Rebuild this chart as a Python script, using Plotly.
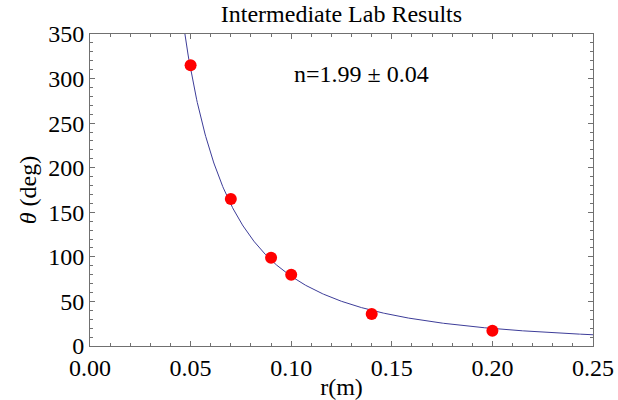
import numpy as np
import plotly.graph_objects as go

# measured data
r_vals = [0.05, 0.07, 0.09, 0.10, 0.14, 0.20]
theta_vals = [315, 165, 99, 80, 36, 17]

# fit parameters: theta = A * r^(-n)
fit_A = 0.80
fit_n = 1.99
fit_err = 0.04

x_ticks = [0.00, 0.05, 0.10, 0.15, 0.20, 0.25]
x_ticklabels = ["0.00", "0.05", "0.10", "0.15", "0.20", "0.25"]
y_ticks = [0, 50, 100, 150, 200, 250, 300, 350]

r_fit = np.linspace(0.04, 0.25, 600)
theta_fit = fit_A * r_fit ** (-fit_n)

FONT = "Liberation Serif"

fig = go.Figure()
fig.add_trace(go.Scatter(x=r_fit, y=theta_fit, mode="lines",
                         line=dict(color="#3d3d99", width=1), hoverinfo="skip"))
fig.add_trace(go.Scatter(x=r_vals, y=theta_vals, mode="markers",
                         marker=dict(color="#ff0000", size=12)))

axis_common = dict(
    showgrid=False, zeroline=False, showline=True, linecolor="#707070", linewidth=1,
    mirror="allticks", ticks="inside", ticklen=5, tickcolor="#707070", tickwidth=1,
    tickfont=dict(family=FONT, size=24, color="black"),
    ticklabeloverflow="allow", automargin=False,
)

fig.update_xaxes(range=[0, 0.25], tickvals=x_ticks, ticktext=x_ticklabels,
                 minor=dict(dtick=0.01, ticks="inside", ticklen=3, tickcolor="#707070"),
                 title=dict(text="r(m)", font=dict(family=FONT, size=24, color="black"), standoff=2),
                 **axis_common)
fig.update_yaxes(range=[0, 350], tickvals=y_ticks,
                 minor=dict(dtick=10, ticks="inside", ticklen=3, tickcolor="#707070"),
                 title=dict(text="<i>θ</i> (deg)", font=dict(family=FONT, size=24, color="black"), standoff=4),
                 **axis_common)

fig.add_annotation(x=0.135, y=305,
                   text=f"n={fit_n:.2f} ± {fit_err:.2f}", showarrow=False,
                   font=dict(family=FONT, size=24, color="black"))

fig.update_layout(
    width=618, height=400,
    margin=dict(l=90, r=25, t=34, b=54, autoexpand=False),
    paper_bgcolor="white", plot_bgcolor="white",
    showlegend=False,
    title=dict(text="Intermediate Lab Results", x=0.5525, xanchor="center", y=0.965, yanchor="middle",
               font=dict(family=FONT, size=24, color="black"), automargin=False),
)

fig.write_html("out.html", include_plotlyjs=True,
               config={"displayModeBar": False, "staticPlot": True},
               post_script="document.body.style.margin='0';document.body.style.overflow='hidden';")
